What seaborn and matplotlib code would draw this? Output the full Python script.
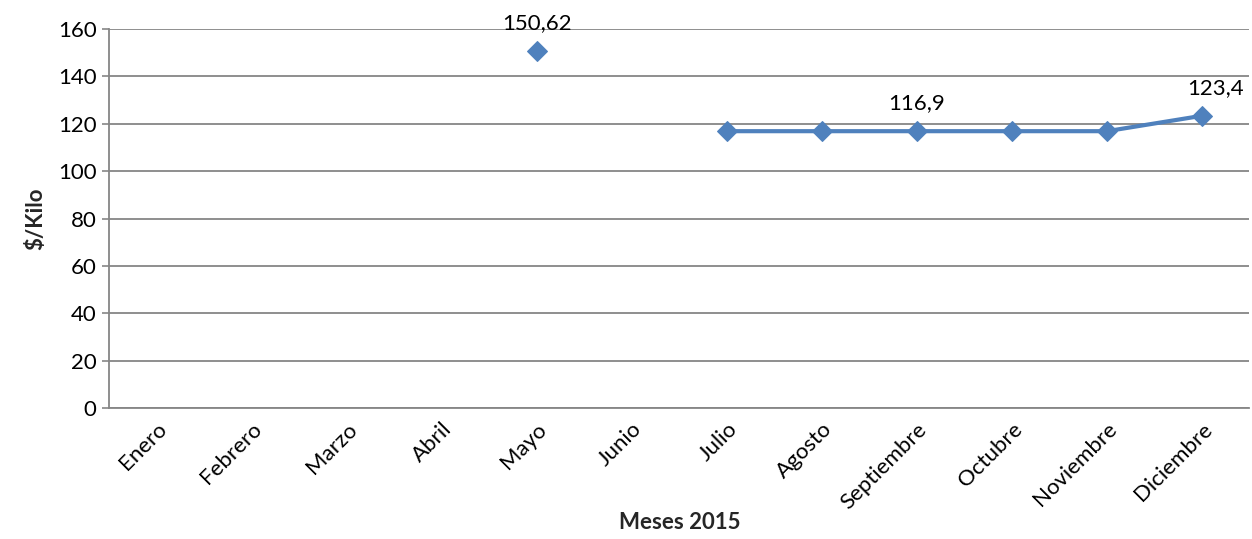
import matplotlib
matplotlib.use("Agg")
import matplotlib.pyplot as plt
import seaborn as sns
import numpy as np
import pandas as pd

meses = ["Enero", "Febrero", "Marzo", "Abril", "Mayo", "Junio", "Julio",
         "Agosto", "Septiembre", "Octubre", "Noviembre", "Diciembre"]
precios = [np.nan, np.nan, np.nan, np.nan, 150.62, np.nan, 116.9,
           116.9, 116.9, 116.9, 116.9, 123.4]
etiquetas = {"Mayo": "150,62", "Septiembre": "116,9", "Diciembre": "123,4"}
yticks = [0, 20, 40, 60, 80, 100, 120, 140, 160]

sns.set_theme(style="white")
plt.rcParams["font.family"] = ["Lato", "DejaVu Sans"]

df = pd.DataFrame({"mes": meses, "precio": precios})
df["pos"] = np.arange(len(meses))
# segment id: break the line where values are missing
df["seg"] = df["precio"].isna().cumsum()
d = df.dropna()

color = "#4F81BD"
grey = "#868686"

fig = plt.figure(figsize=(12.52, 5.39), dpi=100)
ax = fig.add_axes([0.0871, 0.243, 0.9109, 0.703])

sns.lineplot(data=d, x="pos", y="precio", units="seg", estimator=None,
             color=color, linewidth=3, marker="D", markersize=10,
             markeredgecolor=color, ax=ax, legend=False)

ax.set_xlim(-0.5, len(meses) - 0.5)
ax.set_ylim(0, 160)
ax.set_yticks(yticks)
ax.set_yticklabels([str(v) for v in yticks], fontsize=16, color="black")
ax.set_xticks(df["pos"])
ax.set_xticklabels(meses, rotation=45, ha="right", rotation_mode="anchor",
                   fontsize=16, color="black")
ax.tick_params(axis="x", length=0, pad=8)
ax.tick_params(axis="y", length=5, width=1.2, color=grey, pad=4, left=True)

ax.grid(axis="y", color=grey, linewidth=1.3)
ax.set_axisbelow(True)
for s in ["top", "right"]:
    ax.spines[s].set_visible(False)
for s in ["left", "bottom"]:
    ax.spines[s].set_color(grey)
    ax.spines[s].set_linewidth(1.3)

ax.set_xlabel("Meses 2015", fontsize=16, fontweight="bold", labelpad=0)
ax.set_ylabel("$/Kilo", fontsize=16, fontweight="bold", labelpad=8)
ax.xaxis.set_label_coords(0.5, -0.275)

for _, r in d.iterrows():
    if r["mes"] in etiquetas:
        dx = 10 if r["mes"] == "Diciembre" else 0
        ax.annotate(etiquetas[r["mes"]], (r["pos"], r["precio"]),
                    xytext=(dx, 13), textcoords="offset points",
                    ha="center", va="bottom", fontsize=16, color="black")

fig.savefig("out.png", dpi=100)
